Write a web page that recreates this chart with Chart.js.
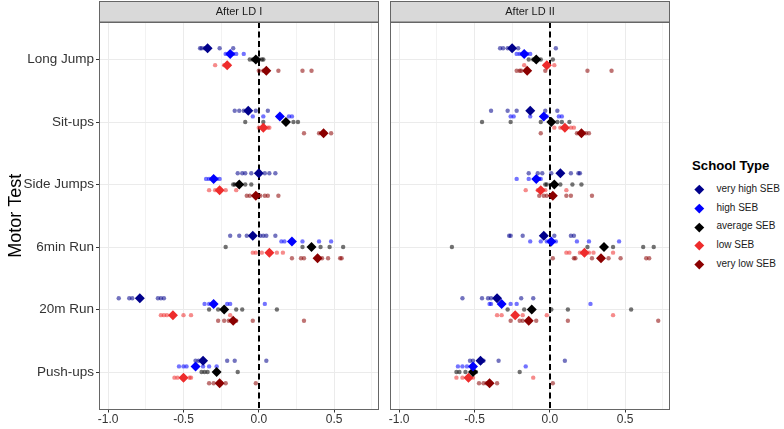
<!DOCTYPE html>
<html><head><meta charset="utf-8">
<script src="https://cdn.jsdelivr.net/npm/chart.js@4"></script>
<style>
html,body{margin:0;padding:0;background:#fff;}
body{width:784px;height:429px;overflow:hidden;position:relative;font-family:"Liberation Sans",Arial,sans-serif;}
canvas{position:absolute;top:0;}
#c1{left:0;}
#c2{left:385px;}
.lt{position:absolute;left:692px;top:158px;font-weight:bold;font-size:13.2px;color:#000;white-space:nowrap;}
.li{position:absolute;left:716.5px;font-size:10px;color:#1a1a1a;line-height:12px;white-space:nowrap;}
.ld{position:absolute;width:6.6px;height:6.6px;transform:rotate(45deg);}
</style></head>
<body>
<canvas id="c1" width="384" height="429"></canvas>
<canvas id="c2" width="290" height="429"></canvas>
<div id="legend"></div>
<script>
// ---------- data ----------
const tests = ['Long Jump', 'Sit-ups', 'Side Jumps', '6min Run', '20m Run', 'Push-ups'];
const schoolTypes = ['very high SEB', 'high SEB', 'average SEB', 'low SEB', 'very low SEB'];
const panelTitles = ['After LD I', 'After LD II'];
const xTickValues = [-1, -0.75, -0.5, -0.25, 0, 0.25, 0.5, 0.75];
const xTickLabels = ['-1.0', '', '-0.5', '', '0.0', '', '0.5', ''];

// After LD I : means per test (Long Jump .. Push-ups)
const meanLD1_veryHigh = [-0.34, -0.07, 0.00, -0.04, -0.79, -0.37];
const meanLD1_high     = [-0.19, 0.14, -0.30, 0.22, -0.30, -0.42];
const meanLD1_average  = [-0.02, 0.18, -0.13, 0.35, -0.23, -0.28];
const meanLD1_low      = [-0.21, 0.03, -0.26, 0.07, -0.57, -0.50];
const meanLD1_veryLow  = [0.05, 0.43, -0.02, 0.39, -0.17, -0.26];
// After LD I : single school values per test
const dotsLD1_veryHigh = [[-0.39,-0.38,-0.36,-0.26,-0.17],[-0.16,-0.13,-0.10,-0.02,0.06],[-0.14,-0.11,-0.09,-0.05,0.04,0.07,0.11],[-0.19,-0.13,-0.08,0.01,0.03,0.05,0.11],[-0.93,-0.86,-0.84,-0.67,-0.65,-0.63],[-0.42,-0.40,-0.21,-0.16,0.05]];
const dotsLD1_high     = [[-0.22,-0.20,-0.17,-0.15,-0.10],[-0.04,0.03,0.13,0.20,0.22],[-0.35,-0.33,-0.28,-0.26],[0.15,0.17,0.29,0.40,0.48],[-0.36,-0.33,-0.21,-0.19,0.04],[-0.53,-0.50,-0.48,-0.37,-0.33,-0.28]];
const dotsLD1_average  = [[-0.06,-0.04,0.00,0.02,0.03],[-0.09,0.03,0.23,0.26],[-0.17,-0.16,-0.09,-0.05],[-0.22,0.29,0.41,0.47,0.56],[-0.33,-0.27,-0.15,-0.11,0.12],[-0.38,-0.36,-0.34,-0.14]];
const dotsLD1_low      = [[-0.29,-0.23,-0.20],[0.00,0.06,0.07],[-0.33,-0.29,-0.22,-0.15],[-0.04,-0.02,0.02,0.12,0.16],[-0.65,-0.63,-0.61,-0.50,-0.45,-0.19],[-0.56,-0.54,-0.46,-0.45]];
const dotsLD1_veryLow  = [[0.00,0.03,0.13,0.29,0.35],[0.30,0.40,0.44,0.48],[-0.08,-0.06,0.01,0.04,0.06,0.13],[0.22,0.28,0.30,0.42,0.46,0.54,0.55],[-0.27,-0.23,-0.20,-0.15,-0.04,0.30],[-0.33,-0.30,-0.25,-0.22,-0.02]];

// After LD II : means per test
const meanLD2_veryHigh = [-0.25, -0.13, 0.07, -0.04, -0.35, -0.46];
const meanLD2_high     = [-0.17, -0.04, -0.09, 0.01, -0.32, -0.51];
const meanLD2_average  = [-0.09, 0.01, 0.03, 0.36, -0.12, -0.51];
const meanLD2_low      = [-0.02, 0.10, -0.06, 0.23, -0.23, -0.54];
const meanLD2_veryLow  = [-0.15, 0.21, 0.02, 0.34, -0.14, -0.40];
// After LD II : single school values per test
const dotsLD2_veryHigh = [[-0.33,-0.31,-0.28,-0.21,0.04],[-0.39,-0.28,-0.22,-0.13,-0.03,0.05],[-0.14,-0.08,-0.05,0.01,0.14,0.19,0.20],[-0.27,-0.26,-0.18,0.03,0.14,0.16],[-0.58,-0.45,-0.41,-0.39,-0.19,-0.11],[-0.53,-0.51,-0.44,-0.34,0.10]];
const dotsLD2_high     = [[-0.22,-0.20,-0.15,-0.13],[-0.26,-0.24,-0.13,-0.02,0.06,0.08],[-0.22,-0.14,-0.07,-0.06],[-0.13,-0.06,-0.02,0.04,0.18,0.26,0.46],[-0.40,-0.39,-0.26,-0.22,0.27],[-0.61,-0.58,-0.55,-0.52,-0.16]];
const dotsLD2_average  = [[-0.14,-0.11,-0.06,0.02],[-0.45,-0.26,-0.06,0.05,0.08,0.13],[-0.03,-0.02,0.07,0.15,0.21],[-0.65,0.25,0.42,0.62,0.69],[-0.28,-0.17,0.01,0.12,0.54],[-0.62,-0.60,-0.56,-0.49,-0.20]];
const dotsLD2_low      = [[-0.17,-0.03,0.03],[0.03,0.07,0.14,0.16],[-0.16,-0.08,-0.03,0.11],[0.11,0.13,0.20,0.26,0.29,0.42],[-0.35,-0.32,-0.18,-0.02,0.42],[-0.62,-0.58,-0.51,-0.11]];
const dotsLD2_veryLow  = [[-0.22,-0.20,-0.19,-0.03,0.25,0.41],[-0.06,0.18,0.24,0.26],[-0.07,-0.04,-0.02,0.11,0.14,0.28],[0.02,0.16,0.17,0.28,0.39,0.47,0.64,0.66],[-0.26,-0.20,-0.18,-0.09,0.12,0.72],[-0.47,-0.44,-0.42,-0.35,0.02]];

// ---------- styles / layout ----------
const colors = ['#00008B', '#0000FF', '#000000', '#EE2C2C', '#8B0000'];
const dotAlpha = 0.55;
const groupOffset = [-0.18, -0.09, 0, 0.09, 0.18];
const FONT = '"Liberation Sans", Arial, sans-serif';

function rgba(hex, a) {
  const n = parseInt(hex.slice(1), 16);
  return `rgba(${(n >> 16) & 255},${(n >> 8) & 255},${n & 255},${a})`;
}
function dotPoints(arr, g) {
  const pts = [];
  arr.forEach((vals, i) => vals.forEach(v => pts.push({ x: v, y: i + 1 + groupOffset[g] })));
  return pts;
}
function meanPoints(arr, g) {
  return arr.map((v, i) => ({ x: v, y: i + 1 + groupOffset[g] }));
}

const panelDeco = {
  id: 'panelDeco',
  beforeDatasetsDraw(chart) {
    const { ctx, chartArea: a, scales } = chart;
    const x0 = Math.round(scales.x.getPixelForValue(0));
    ctx.save();
    ctx.strokeStyle = '#000';
    ctx.lineWidth = 2;
    ctx.setLineDash([6, 3.5]);
    ctx.beginPath();
    ctx.moveTo(x0, a.top);
    ctx.lineTo(x0, a.bottom);
    ctx.stroke();
    ctx.restore();
  },
  afterDraw(chart, args, opts) {
    const { ctx, chartArea: a } = chart;
    ctx.save();
    // panel border
    ctx.strokeStyle = '#666';
    ctx.lineWidth = 1;
    ctx.strokeRect(Math.round(a.left) + 0.5, Math.round(a.top) + 0.5, Math.round(a.right - a.left) - 1, Math.round(a.bottom - a.top) - 1);
    // strip
    ctx.fillStyle = '#D9D9D9';
    ctx.fillRect(Math.round(a.left) + 0.5, 1.5, Math.round(a.right - a.left) - 1, Math.round(a.top) - 1.5);
    ctx.strokeRect(Math.round(a.left) + 0.5, 1.5, Math.round(a.right - a.left) - 1, Math.round(a.top) - 1.5);
    ctx.fillStyle = '#1a1a1a';
    ctx.font = '11px ' + FONT;
    ctx.textAlign = 'center';
    ctx.textBaseline = 'middle';
    ctx.fillText(opts.title, (a.left + a.right) / 2, (1.5 + a.top) / 2 + 0.5);
    ctx.restore();
  }
};

function makeChart(id, dots, means, title, isFirst) {
  const datasets = [];
  dots.forEach((arr, g) => datasets.push({
    data: dotPoints(arr, g), pointStyle: 'circle', pointRadius: 2.2,
    backgroundColor: rgba(colors[g], dotAlpha), borderWidth: 0, order: 2
  }));
  means.forEach((arr, g) => datasets.push({
    data: meanPoints(arr, g), pointStyle: 'rectRot', pointRadius: 5,
    backgroundColor: colors[g], borderWidth: 0, order: 1
  }));
  return new Chart(document.getElementById(id), {
    type: 'scatter',
    data: { datasets },
    plugins: [panelDeco],
    options: {
      responsive: false, animation: false, events: [],
      layout: { padding: { top: 22, right: isFirst ? 1.7 : 2.7, left: 0, bottom: 0 } },
      plugins: { legend: { display: false }, tooltip: { enabled: false }, panelDeco: { title } },
      scales: {
        x: {
          type: 'linear', min: -1.061, max: 0.798,
          afterBuildTicks: s => { s.ticks = xTickValues.map(v => ({ value: v })); },
          afterFit: s => { s.height = 19.5; },
          border: { display: false },
          grid: {
            color: c => (Math.abs(c.tick.value * 2 - Math.round(c.tick.value * 2)) < 1e-6 ? '#EBEBEB' : '#F2F2F2'),
            lineWidth: 1,
            tickColor: c => (Math.abs(c.tick.value * 2 - Math.round(c.tick.value * 2)) < 1e-6 ? '#333' : 'rgba(0,0,0,0)'),
            tickLength: 3, tickWidth: 1
          },
          ticks: {
            autoSkip: false, maxRotation: 0, padding: 0, color: '#333',
            font: { family: FONT, size: 12 },
            callback: (v) => { const i = xTickValues.findIndex(t => Math.abs(t - v) < 1e-9); return i >= 0 ? xTickLabels[i] : ''; }
          }
        },
        y: {
          type: 'linear', min: 0.4, max: 6.6, reverse: true,
          afterBuildTicks: s => { s.ticks = tests.map((t, i) => ({ value: i + 1 })); },
          afterFit: s => { s.width = isFirst ? 99 : 4; },
          border: { display: false },
          grid: { color: '#EBEBEB', lineWidth: 1, drawTicks: isFirst, tickColor: '#333', tickLength: 3 },
          ticks: {
            display: isFirst, autoSkip: false, padding: 2, color: '#333',
            font: { family: FONT, size: 13.5 },
            callback: v => tests[Math.round(v) - 1]
          },
          title: {
            display: isFirst, text: 'Motor Test', color: '#000',
            font: { family: FONT, size: 18 }, padding: { top: 5, bottom: 0 }
          }
        }
      }
    }
  });
}

makeChart('c1',
  [dotsLD1_veryHigh, dotsLD1_high, dotsLD1_average, dotsLD1_low, dotsLD1_veryLow],
  [meanLD1_veryHigh, meanLD1_high, meanLD1_average, meanLD1_low, meanLD1_veryLow],
  panelTitles[0], true);
makeChart('c2',
  [dotsLD2_veryHigh, dotsLD2_high, dotsLD2_average, dotsLD2_low, dotsLD2_veryLow],
  [meanLD2_veryHigh, meanLD2_high, meanLD2_average, meanLD2_low, meanLD2_veryLow],
  panelTitles[1], false);

// legend
const lg = document.getElementById('legend');
let html = '<div class="lt">School Type</div>';
schoolTypes.forEach((s, i) => {
  const cy = 189.3 + i * 18.8;
  html += `<div class="ld" style="left:${699 - 3.3}px;top:${cy - 3.3}px;background:${colors[i]}"></div>`;
  html += `<div class="li" style="top:${cy - 6.5}px">${s}</div>`;
});
lg.innerHTML = html;
</script>
</body></html>
